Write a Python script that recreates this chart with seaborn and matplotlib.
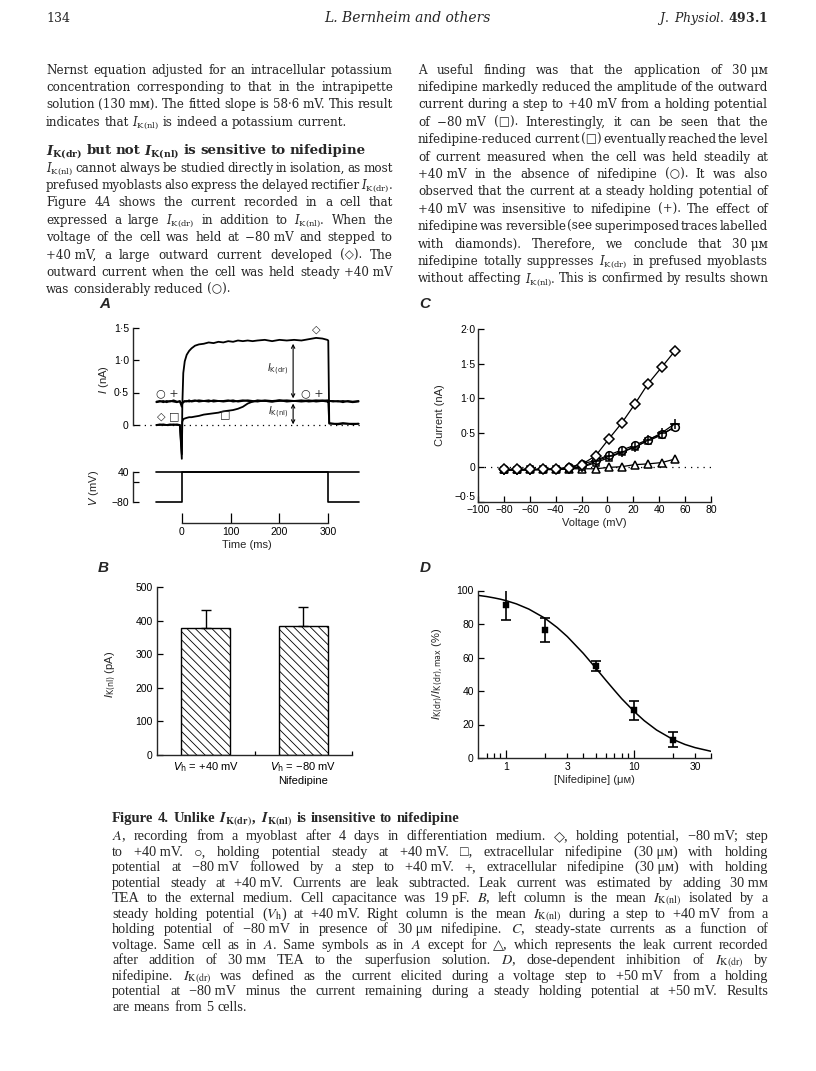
import matplotlib
matplotlib.use('Agg')
import matplotlib.pyplot as plt
import seaborn as sns
from matplotlib.ticker import FixedLocator

W, H = 816, 1071
NB = '\u00a0'

# ---------------- page text ----------------
header_left = '134'
header_mid = 'L. Bernheim and others'
header_right = r'$\mathit{J.\ Physiol.}\,\mathbf{493.1}$'

IKnl = r'$I_{\mathrm{K(nl)}}$'
IKdr = r'$I_{\mathrm{K(dr)}}$'

left_lines = [
    ('Nernst equation adjusted for an intracellular potassium', True),
    ('concentration corresponding to that in the intrapipette', True),
    ('solution (130' + NB + 'mᴍ). The fitted slope is 58·6' + NB + 'mV. This result', True),
    ('indicates that ' + IKnl + ' is indeed a potassium current.', False),
]
heading = r'$\mathbfit{I}_{\mathbf{K(dr)}}$ but not $\mathbfit{I}_{\mathbf{K(nl)}}$ is sensitive to nifedipine'
left_lines2 = [
    (IKnl + ' cannot always be studied directly in isolation, as most', True),
    ('prefused myoblasts also express the delayed rectifier ' + IKdr + '.', True),
    ('Figure 4$A$ shows the current recorded in a cell that', True),
    ('expressed a large ' + IKdr + ' in addition to ' + IKnl + '. When the', True),
    ('voltage of the cell was held at −80' + NB + 'mV and stepped to', True),
    ('+40' + NB + 'mV, a large outward current developed (◇). The', True),
    ('outward current when the cell was held steady +40' + NB + 'mV', True),
    ('was considerably reduced (○).', False),
]
right_lines = [
    ('A useful finding was that the application of 30' + NB + 'μᴍ', True),
    ('nifedipine markedly reduced the amplitude of the outward', True),
    ('current during a step to +40' + NB + 'mV from a holding potential', True),
    ('of −80' + NB + 'mV (□). Interestingly, it can be seen that the', True),
    ('nifedipine-reduced current (□) eventually reached the level', True),
    ('of current measured when the cell was held steadily at', True),
    ('+40' + NB + 'mV in the absence of nifedipine (○). It was also', True),
    ('observed that the current at a steady holding potential of', True),
    ('+40' + NB + 'mV was insensitive to nifedipine (+). The effect of', True),
    ('nifedipine was reversible (see superimposed traces labelled', True),
    ('with diamonds). Therefore, we conclude that 30' + NB + 'μᴍ', True),
    ('nifedipine totally suppresses ' + IKdr + ' in prefused myoblasts', True),
    ('without affecting ' + IKnl + '. This is confirmed by results shown', True),
]
caption_title = r'Figure 4. Unlike $\mathbfit{I}_{\mathbf{K(dr)}}$, $\mathbfit{I}_{\mathbf{K(nl)}}$ is insensitive to nifedipine'
caption_lines = [
    ('$A$, recording from a myoblast after 4 days in differentiation medium. ◇, holding potential, −80' + NB + 'mV; step', True),
    ('to +40' + NB + 'mV. ○, holding potential steady at +40' + NB + 'mV. □, extracellular nifedipine (30' + NB + 'μᴍ) with holding', True),
    ('potential at −80' + NB + 'mV followed by a step to +40' + NB + 'mV. +, extracellular nifedipine (30' + NB + 'μᴍ) with holding', True),
    ('potential steady at +40' + NB + 'mV. Currents are leak subtracted. Leak current was estimated by adding 30' + NB + 'mᴍ', True),
    ('TEA to the external medium. Cell capacitance was 19' + NB + 'pF. $B$, left column is the mean ' + IKnl + ' isolated by a', True),
    ('steady holding potential ($V_{\\mathrm{h}}$) at +40' + NB + 'mV. Right column is the mean ' + IKnl + ' during a step to +40' + NB + 'mV from a', True),
    ('holding potential of −80' + NB + 'mV in presence of 30' + NB + 'μᴍ nifedipine. $C$, steady-state currents as a function of', True),
    ('voltage. Same cell as in $A$. Same symbols as in $A$ except for △, which represents the leak current recorded', True),
    ('after addition of 30' + NB + 'mᴍ TEA to the superfusion solution. $D$, dose-dependent inhibition of ' + IKdr + ' by', True),
    ('nifedipine. ' + IKdr + ' was defined as the current elicited during a voltage step to +50' + NB + 'mV from a holding', True),
    ('potential at −80' + NB + 'mV minus the current remaining during a steady holding potential at +50' + NB + 'mV. Results', True),
    ('are means from 5 cells.', False),
]

# ---------------- panel A: traces ----------------
trace_t = [-52, -45, -38, -31, -24, -17, -10, -4,
           0, 1, 3, 6, 10, 15, 20,
           27, 35, 45, 55, 65, 75, 85, 95, 105, 115, 125, 135, 145, 155,
           170, 185, 200, 215, 230, 245, 260, 275, 288, 298,
           300, 302, 310, 320, 330, 340, 350, 362]
cur_diamond = [0.0, 0.01, 0.0, 0.0, 0.01, 0.0, 0.01, 0.0,
               -0.52, 0.3, 0.8, 0.98, 1.08, 1.14, 1.18,
               1.22, 1.24, 1.25, 1.27, 1.26, 1.28, 1.27, 1.29, 1.28, 1.30, 1.29, 1.30, 1.29, 1.30,
               1.31, 1.29, 1.31, 1.30, 1.31, 1.30, 1.32, 1.34, 1.33, 1.31,
               1.30, 0.03, 0.02, 0.02, 0.03, 0.02, 0.02, 0.02]
cur_square = [0.0, 0.0, 0.01, 0.0, 0.0, 0.01, 0.0, 0.0,
              -0.45, 0.05, 0.09, 0.10, 0.11, 0.12, 0.12,
              0.13, 0.14, 0.16, 0.17, 0.18, 0.19, 0.21, 0.22, 0.23, 0.25, 0.28, 0.33, 0.36, 0.37,
              0.37, 0.36, 0.37, 0.38, 0.37, 0.36, 0.37, 0.38, 0.37, 0.36,
              0.36, 0.02, 0.02, 0.01, 0.02, 0.02, 0.01, 0.02]
cur_circle = [0.36, 0.37, 0.35, 0.37, 0.36, 0.38, 0.36, 0.36,
              0.28, 0.33, 0.35, 0.36, 0.37, 0.36, 0.37,
              0.38, 0.36, 0.37, 0.38, 0.36, 0.37, 0.37, 0.38, 0.36, 0.37, 0.38, 0.37, 0.36, 0.38,
              0.37, 0.36, 0.38, 0.37, 0.37, 0.38, 0.36, 0.37, 0.38, 0.37,
              0.37, 0.37, 0.36, 0.37, 0.35, 0.37, 0.36, 0.37]
cur_plus = [0.35, 0.36, 0.37, 0.35, 0.37, 0.36, 0.35, 0.37,
            0.31, 0.34, 0.36, 0.37, 0.36, 0.38, 0.36,
            0.37, 0.38, 0.37, 0.36, 0.38, 0.37, 0.36, 0.37, 0.38, 0.36, 0.37, 0.38, 0.37, 0.36,
            0.38, 0.37, 0.38, 0.36, 0.37, 0.37, 0.38, 0.36, 0.37, 0.38,
            0.38, 0.37, 0.37, 0.36, 0.37, 0.36, 0.35, 0.36]
volt_step_t = [-52, 0, 0, 300, 300, 362]
volt_step = [-80, -80, 40, 40, -80, -80]
volt_hold_t = [-52, 362]
volt_hold = [40, 40]
a_yticks = [0, 0.5, 1.0, 1.5]
a_yticklabels = ['0', '0·5', '1·0', '1·5']
v_yticks = [-80, 0, 40]
v_yticklabels = ['−80', '', '40']
time_ticks = [0, 100, 200, 300]

# ---------------- panel B ----------------
bar_labels = [r'$V_{\mathrm{h}}$ = +40 mV', '$V_{\\mathrm{h}}$ = −80 mV\nNifedipine']
bar_means = [378, 385]
bar_err = [54, 55]
b_yticks = [0, 100, 200, 300, 400, 500]

# ---------------- panel C ----------------
iv_volt = [-80, -70, -60, -50, -40, -30, -20, -9, 1, 11, 21, 31, 42, 52]
iv_diamond = [-0.03, -0.03, -0.03, -0.03, -0.02, -0.01, 0.04, 0.17, 0.41, 0.64, 0.91, 1.20, 1.45, 1.68]
iv_circle = [-0.03, -0.03, -0.03, -0.03, -0.02, 0.0, 0.05, 0.10, 0.18, 0.25, 0.32, 0.40, 0.48, 0.58]
iv_square = [-0.04, -0.04, -0.03, -0.03, -0.03, -0.02, 0.0, 0.07, 0.14, 0.22, 0.30, 0.38, 0.47, 0.59]
iv_plus = [-0.04, -0.04, -0.04, -0.03, -0.03, -0.02, 0.01, 0.09, 0.16, 0.22, 0.29, 0.39, 0.50, 0.63]
iv_triangle = [-0.03, -0.03, -0.03, -0.03, -0.03, -0.02, -0.02, -0.02, 0.0, 0.01, 0.04, 0.05, 0.07, 0.12]
c_xticks = [-100, -80, -60, -40, -20, 0, 20, 40, 60, 80]
c_xticklabels = ['−100', '−80', '−60', '−40', '−20', '0', '20', '40', '60', '80']
c_yticks = [-0.5, 0, 0.5, 1.0, 1.5, 2.0]
c_yticklabels = ['−0·5', '0', '0·5', '1·0', '1·5', '2·0']

# ---------------- panel D ----------------
dose_conc = [1, 2, 5, 10, 20]
dose_mean = [91.5, 76.5, 55, 28.5, 11]
dose_err = [9, 7, 3, 5.75, 4.5]
fit_conc = [0.6, 0.7, 0.8, 0.9, 1, 1.2, 1.5, 2, 2.5, 3, 4, 5, 6, 7, 8, 10, 12, 15, 20, 25, 30, 40]
fit_pct = [97.1, 96.4, 95.6, 94.8, 93.9, 92.0, 88.9, 83.5, 77.9, 72.5, 62.5, 53.8, 46.5, 40.5,
           35.4, 27.8, 22.3, 16.7, 11.2, 8.1, 6.2, 4.0]
d_major = [1, 10]
d_majorlabels = ['1', '10']
d_minor = [0.7, 0.8, 0.9, 2, 3, 4, 5, 6, 7, 8, 9, 20, 30, 40]
d_minorlabels = ['', '', '', '', '3', '', '', '', '', '', '', '', '30', '']
d_yticks = [0, 20, 40, 60, 80, 100]

sns.set_style('ticks')
plt.rcParams['font.family'] = ['Liberation Sans', 'DejaVu Sans']
plt.rcParams['mathtext.fontset'] = 'dejavusans'
plt.rcParams['hatch.linewidth'] = 0.6
plt.rcParams['axes.linewidth'] = 1.0

fig = plt.figure(figsize=(W / 100, H / 100), dpi=100)
renderer = fig.canvas.get_renderer()

BODY = ['DejaVu Serif', 'DejaVu Sans']
CAP = ['Liberation Serif', 'DejaVu Serif', 'DejaVu Sans']


def ax_px(l, t, r, b):
    return fig.add_axes([l / W, 1 - b / H, (r - l) / W, (b - t) / H])


def put_line(x0, x1, yc, s, size, family, math, justify=True, weight='normal'):
    em = size * 100 / 72
    y = 1 - (yc + 0.3 * em) / H
    words = s.split(' ')
    objs = [fig.text(0, y, w, fontsize=size, family=family, math_fontfamily=math,
                     weight=weight, va='baseline', ha='left') for w in words]
    widths = [o.get_window_extent(renderer).width for o in objs]
    gap = 0.3 * em
    if justify and len(words) > 1:
        gap = max((x1 - x0 - sum(widths)) / (len(words) - 1), 0.12 * em)
    x = x0
    for o, w in zip(objs, widths):
        o.set_x(x / W)
        x += w + gap


# header
fig.text(46 / W, 1 - 22 / H, header_left, family=BODY, fontsize=9, va='baseline')
fig.text(407 / W, 1 - 22 / H, header_mid, family=BODY, style='italic', fontsize=10,
         va='baseline', ha='center')
fig.text(768 / W, 1 - 22 / H, header_right, math_fontfamily='dejavuserif', fontsize=9,
         va='baseline', ha='right')

# body columns
LS = 17.4
BS = 8.6
for i, (s, j) in enumerate(left_lines):
    put_line(46, 393, 70 + LS * i, s, BS, BODY, 'dejavuserif', j)
put_line(46, 393, 150, heading, 9.6, BODY, 'dejavuserif', False, weight='bold')
for i, (s, j) in enumerate(left_lines2):
    put_line(46, 393, 168 + LS * i, s, BS, BODY, 'dejavuserif', j)
for i, (s, j) in enumerate(right_lines):
    put_line(418, 768, 70 + LS * i, s, BS, BODY, 'dejavuserif', j)

# caption
put_line(112, 768, 818, caption_title, 10.5, CAP, 'stix', False, weight='bold')
for i, (s, j) in enumerate(caption_lines):
    put_line(112, 768, 836 + 15.5 * i, s, 10.3, CAP, 'stix', j)

# panel letters
for lab, x, y in [('A', 105, 304), ('B', 103, 568), ('C', 425, 304), ('D', 425, 568)]:
    fig.text(x / W, 1 - y / H, lab, fontsize=11, style='italic', weight='bold',
             ha='center', va='center')

TL = dict(direction='in', labelsize=7.5, width=0.9, colors='black')

# ---------- panel A: current ----------
ax_a = ax_px(133, 321, 360, 460.75)
for vals in (cur_diamond, cur_square, cur_circle, cur_plus):
    sns.lineplot(x=trace_t, y=vals, ax=ax_a, color='black', lw=1.3, sort=False, estimator=None)
ax_a.axhline(0, color='black', lw=0.9, ls=(0, (1, 3.5)), zorder=0)
ax_a.set_xlim(-100, 365)
ax_a.set_ylim(-0.55, 1.6)
for sp in ('top', 'right', 'bottom'):
    ax_a.spines[sp].set_visible(False)
ax_a.spines['left'].set_bounds(0, 1.5)
ax_a.set_xticks([])
ax_a.set_yticks(a_yticks, labels=a_yticklabels)
ax_a.tick_params(axis='y', length=4, pad=3, **TL)
ax_a.set_ylabel('$I$ (nA)', fontsize=8)
ax_a.yaxis.set_label_coords(-0.095, 0.58)
sym_kw = dict(fontsize=8, family='DejaVu Sans', ha='center', va='center')
ax_a.text(-30, 0.49, '○ +', **sym_kw)
ax_a.text(-27, 0.13, '◇ □', **sym_kw)
ax_a.text(275, 1.47, '◇', **sym_kw)
ax_a.text(268, 0.49, '○ +', **sym_kw)
ax_a.text(88, 0.17, '□', **sym_kw)
arw = dict(arrowstyle='<->', lw=0.8, color='black', shrinkA=0, shrinkB=0, mutation_scale=6)
ax_a.annotate('', xy=(228, 1.25), xytext=(228, 0.41), arrowprops=arw)
ax_a.annotate('', xy=(228, 0.33), xytext=(228, 0.01), arrowprops=arw)
ax_a.text(218, 0.86, IKdr, fontsize=7, ha='right', va='center')
ax_a.text(218, 0.19, IKnl, fontsize=7, ha='right', va='center')

# ---------- panel A: voltage ----------
ax_v = ax_px(133, 470.75, 360, 504.5)
sns.lineplot(x=volt_hold_t, y=volt_hold, ax=ax_v, color='black', lw=1.2, sort=False, estimator=None)
sns.lineplot(x=volt_step_t, y=volt_step, ax=ax_v, color='black', lw=1.2, sort=False, estimator=None)
ax_v.set_xlim(-100, 365)
ax_v.set_ylim(-90, 45)
for sp in ('top', 'right', 'bottom'):
    ax_v.spines[sp].set_visible(False)
ax_v.spines['left'].set_bounds(-80, 40)
ax_v.set_xticks([])
ax_v.set_yticks(v_yticks, labels=v_yticklabels)
ax_v.tick_params(axis='y', length=4, pad=3, **TL)
ax_v.set_ylabel('$V$ (mV)', fontsize=8)
ax_v.yaxis.set_label_coords(-0.14, 0.5)

# ---------- panel A: time scale ----------
ax_t = ax_px(133, 513, 360, 523)
ax_t.set_xlim(-100, 365)
for sp in ('top', 'right', 'left'):
    ax_t.spines[sp].set_visible(False)
ax_t.spines['bottom'].set_bounds(0, 300)
ax_t.set_yticks([])
ax_t.set_xticks(time_ticks)
ax_t.tick_params(axis='x', length=7, pad=3, **TL)
ax_t.set_xlabel('Time (ms)', fontsize=8, labelpad=2)
ax_t.patch.set_visible(False)

# ---------- panel B ----------
ax_b = ax_px(157, 587, 352, 755)
sns.barplot(x=bar_labels, y=bar_means, ax=ax_b, color='white', edgecolor='black', linewidth=1,
            hatch='\\\\\\\\', width=0.5, errorbar=None, saturation=1)
ax_b.errorbar(range(len(bar_means)), bar_means, yerr=[[0] * len(bar_err), bar_err], fmt='none',
              ecolor='black', elinewidth=1, capsize=3.5, capthick=1)
ax_b.set_xlim(-0.5, 1.5)
ax_b.set_ylim(0, 500)
ax_b.set_yticks(b_yticks)
sns.despine(ax=ax_b)
ax_b.xaxis.set_minor_locator(FixedLocator([0.5, 1.5]))
ax_b.tick_params(axis='x', which='major', length=0, pad=4, **TL)
ax_b.tick_params(axis='x', which='minor', length=3, **TL)
ax_b.tick_params(axis='y', length=4, pad=3, **TL)
for lab in ax_b.get_xticklabels():
    lab.set_math_fontfamily('dejavusans')
    lab.set_fontsize(8)
ax_b.set_ylabel(IKnl + ' (pA)', fontsize=8)
ax_b.yaxis.set_label_coords(-0.2, 0.48)

# ---------- panel C ----------
ax_c = ax_px(478, 329, 711, 502)
ax_c.axhline(0, color='black', lw=0.9, ls=(0, (1, 4)), zorder=0)
mk = dict(color='black', lw=0.9, markerfacecolor='white', markeredgecolor='black',
          markeredgewidth=1.1, sort=False, estimator=None)
sns.lineplot(x=iv_volt, y=iv_triangle, ax=ax_c, marker='^', markersize=5.5, **mk)
sns.lineplot(x=iv_volt, y=iv_square, ax=ax_c, marker='s', markersize=5, **mk)
sns.lineplot(x=iv_volt, y=iv_circle, ax=ax_c, marker='o', markersize=5.5, **mk)
sns.lineplot(x=iv_volt, y=iv_plus, ax=ax_c, marker='+', markersize=7, **mk)
sns.lineplot(x=iv_volt, y=iv_diamond, ax=ax_c, marker='D', markersize=5.5, **mk)
ax_c.set_xlim(-100, 80)
ax_c.set_ylim(-0.5, 2.0)
sns.despine(ax=ax_c)
ax_c.set_xticks(c_xticks, labels=c_xticklabels)
ax_c.set_yticks(c_yticks, labels=c_yticklabels)
ax_c.tick_params(axis='both', length=4, pad=2, **TL)
ax_c.get_yticklabels()[0].set_va('bottom')
ax_c.set_xlabel('Voltage (mV)', fontsize=8, labelpad=2)
ax_c.set_ylabel('Current (nA)', fontsize=8)
ax_c.yaxis.set_label_coords(-0.14, 0.5)

# ---------- panel D ----------
ax_d = ax_px(478, 590.5, 711, 758)
ax_d.set_xscale('log')
sns.lineplot(x=fit_conc, y=fit_pct, ax=ax_d, color='black', lw=1.1, sort=False, estimator=None)
ax_d.errorbar(dose_conc, dose_mean, yerr=dose_err, fmt='none', ecolor='black', elinewidth=1.2,
              capsize=3.5, capthick=1.2)
sns.scatterplot(x=dose_conc, y=dose_mean, ax=ax_d, marker='s', s=14, color='black',
                edgecolor='black', zorder=3)
ax_d.set_xlim(0.6, 40)
ax_d.set_ylim(0, 100)
sns.despine(ax=ax_d)
ax_d.set_xticks(d_major, labels=d_majorlabels)
ax_d.set_xticks(d_minor, labels=d_minorlabels, minor=True)
ax_d.set_yticks(d_yticks)
ax_d.tick_params(axis='x', which='major', length=6, pad=3, **TL)
ax_d.tick_params(axis='x', which='minor', length=3.5, pad=3, **TL)
ax_d.tick_params(axis='y', length=4, pad=3, **TL)
ax_d.set_xlabel('[Nifedipine] (μᴍ)', fontsize=8, labelpad=2)
ax_d.set_ylabel(IKdr[:-1] + r'/I_{\mathrm{K(dr),max}}$ (%)', fontsize=8)
ax_d.yaxis.set_label_coords(-0.14, 0.5)

fig.savefig('out.png', dpi=100)
